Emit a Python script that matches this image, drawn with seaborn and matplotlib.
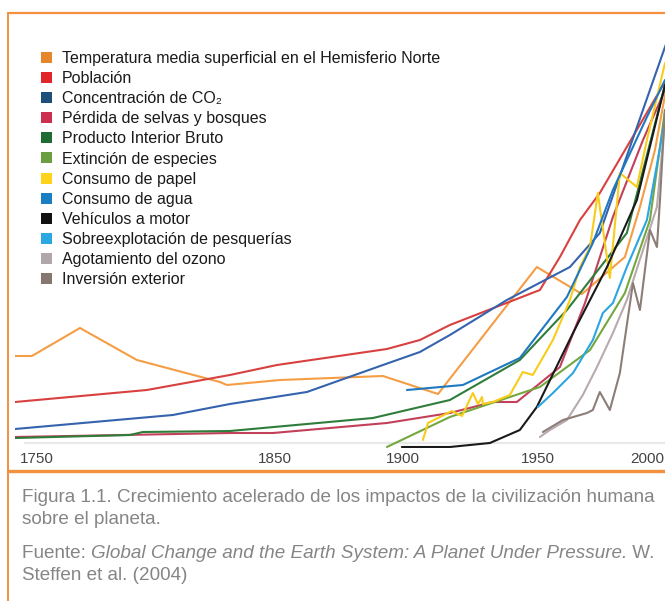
import numpy as np
import pandas as pd
import seaborn as sns
import matplotlib.pyplot as plt
from matplotlib.lines import Line2D
from matplotlib.patches import Patch

# series (year, relative index, 0 = baseline)
temp_x = [1740.8, 1747.9, 1768.1, 1792.0, 1826.9, 1829.8, 1852.0, 1892.2, 1913.0, 1949.6, 1970.2, 1989.9, 1996.8, 2003.7, 2008.3]
temp_y = [87, 87, 115, 83, 61, 58, 63, 67, 49, 176, 149, 186, 236, 293, 348]

pop_x = [1740.8, 1796.2, 1831.1, 1850.8, 1893.75, 1906.3, 1917.4, 1950.9, 1960.1, 1969.3, 1978.4, 2006.9, 2010.6]
pop_y = [41, 53, 68, 78, 94, 103, 118, 153, 186, 223, 250, 356, 368]

co2_x = [1740.8, 1807.1, 1831.1, 1862.5, 1892.2, 1906.3, 1917.4, 1938.5, 1964.7, 1978.4, 2008.3, 2010.6]
co2_y = [14, 28, 39, 51, 78, 91, 108, 143, 176, 210, 396, 410]

forest_x = [1740.8, 1831.1, 1849.2, 1893.75, 1917.4, 1933.3, 1942.2, 1960.1, 1971.6, 1984.4, 1998.2, 2008.3]
forest_y = [6, 10, 10, 20, 30, 41, 41, 76, 140, 226, 303, 353]

gdp_x = [1740.8, 1789.1, 1794.5, 1831.1, 1888.3, 1917.4, 1943.3, 1963.3, 1990.8, 2008.3]
gdp_y = [5, 8, 11, 12, 25, 43, 83, 133, 210, 358]

extinct_x = [1893.75, 1917.4, 1950.9, 1973.9, 1989.9, 2001.4, 2008.3]
extinct_y = [-4, 26, 56, 93, 150, 223, 333]

paper_x = [1907.4, 1909.3, 1913.7, 1918.1, 1921.9, 1925.9, 1927.8, 1929.3, 1929.6, 1933.3, 1939.6, 1944.4,
           1948.1, 1956.9, 1964.7, 1969.3, 1973.9, 1977.5, 1983.0, 1987.6, 1995.4, 2000.0, 2008.3]
paper_y = [3, 20, 26, 32, 27, 50, 39, 46, 39, 41, 48, 71, 68, 103, 143, 176, 196, 250, 165, 270, 256, 303, 380]

water_x = [1901.5, 1922.2, 1943.3, 1963.3, 1975.2, 1984.4, 2000.0, 2008.3]
water_y = [53, 58, 85, 146, 200, 253, 326, 363]

cars_x = [1899.6, 1917.4, 1932.2, 1943.3, 1949.6, 1966.1, 1981.7, 1995.4, 2008.3]
cars_y = [-4, -4, 0, 13, 36, 110, 176, 243, 358]

fish_x = [1950.0, 1956.9, 1966.1, 1975.2, 1979.8, 1984.4, 1990.8, 2000.0, 2008.3]
fish_y = [36, 50, 70, 103, 130, 140, 176, 223, 323]

ozone_x = [1950.9, 1955.5, 1963.3, 1970.6, 1977.1, 1984.4, 1990.8, 1998.2, 2004.6, 2008.3]
ozone_y = [6, 13, 23, 48, 76, 110, 143, 193, 236, 323]

invest_x = [1952.3, 1961.5, 1972.5, 1975.2, 1978.4, 1983.0, 1987.6, 1993.6, 1996.8, 2001.4, 2004.6, 2006.0, 2008.3]
invest_y = [11, 23, 30, 33, 51, 33, 70, 160, 133, 213, 196, 243, 333]

labels = [
    "Temperatura media superficial en el Hemisferio Norte",
    "Población",
    "Concentración de CO₂",
    "Pérdida de selvas y bosques",
    "Producto Interior Bruto",
    "Extinción de especies",
    "Consumo de papel",
    "Consumo de agua",
    "Vehículos a motor",
    "Sobreexplotación de pesquerías",
    "Agotamiento del ozono",
    "Inversión exterior",
]
series = [
    (temp_x, temp_y), (pop_x, pop_y), (co2_x, co2_y), (forest_x, forest_y),
    (gdp_x, gdp_y), (extinct_x, extinct_y), (paper_x, paper_y), (water_x, water_y),
    (cars_x, cars_y), (fish_x, fish_y), (ozone_x, ozone_y), (invest_x, invest_y),
]
legend_colors = ["#e4872b", "#e0262a", "#1d4f7a", "#cc2f50", "#1f6b32", "#6b9e40",
                 "#ffd21c", "#1a7fc2", "#111111", "#2ba8e2", "#b0a6ab", "#857670"]
line_colors = ["#f59d45", "#d8413f", "#3563ae", "#c2405a", "#2f7d3b", "#74a83f",
               "#f8cc1b", "#2079c0", "#1a1a1a", "#2ba6e0", "#b8aaae", "#8d7d78"]

tick_years = [1750, 1850, 1900, 1950, 2000]

rows = []
for lab, (xs, ys) in zip(labels, series):
    for x, y in zip(xs, ys):
        rows.append({"año": x, "valor": y, "serie": lab})
df = pd.DataFrame(rows)

# the source axis is not evenly spaced between labels; follow it piecewise
anchor_years = [1650, 1750, 1850, 1900, 1950, 2000, 2100]
anchor_pos = [-201, 37, 275, 403, 538, 647, 865]


def fwd(v):
    return np.interp(v, anchor_years, anchor_pos)


def inv(v):
    return np.interp(v, anchor_pos, anchor_years)


sns.set_style("white")
plt.rcParams["font.family"] = ["Liberation Sans", "DejaVu Sans"]

W, H = 665, 601
fig = plt.figure(figsize=(W / 100, H / 100), dpi=100)
ax = fig.add_axes([15 / W, 1 - 448 / H, 650 / W, (448 - 20) / H])
ax.set_xscale("function", functions=(fwd, inv))

sns.lineplot(data=df, x="año", y="valor", hue="serie", palette=dict(zip(labels, line_colors)),
             hue_order=labels, estimator=None, sort=False, linewidth=1.5, legend=False, ax=ax)

ax.axhline(0, xmin=10 / 650, color="#e8e8e8", lw=1.6, zorder=0)
ax.set_xlim(1740.8, 2008.3)
ax.set_ylim(-5, 423)
ax.set_xticks(tick_years)
ax.set_xticklabels([str(t) for t in tick_years])
ax.tick_params(axis="x", length=0, pad=3, labelsize=11, labelcolor="#444444")
ax.set_yticks([])
ax.set_xlabel("")
ax.set_ylabel("")
for s in ax.spines.values():
    s.set_visible(False)

handles = [Patch(facecolor=c, edgecolor="none") for c in legend_colors]
fig.legend(handles, labels, loc="upper left", bbox_to_anchor=(41 / W, 1 - 51 / H),
           frameon=False, fontsize=11.5, handlelength=0.68, handleheight=0.68,
           handletextpad=0.65, labelspacing=0.32, borderpad=0, borderaxespad=0,
           labelcolor="#1a1a1a")

# orange frame
orange = "#f3913f"
fig.add_artist(Line2D([8 / W, 1], [1 - 13 / H] * 2, color=orange, lw=1.6))
fig.add_artist(Line2D([8 / W] * 2, [0, 1 - 13 / H], color=orange, lw=1.4))
fig.add_artist(Line2D([8 / W, 1], [1 - 471 / H] * 2, color=orange, lw=2.4))

# caption
fs = 13.6
cap = dict(color="#858585", fontsize=fs, va="center", ha="left")
fig.text(22 / W, 1 - 498 / H, "Figura 1.1. Crecimiento acelerado de los impactos de la civilización humana", **cap)
fig.text(22 / W, 1 - 520 / H, "sobre el planeta.", **cap)
t1 = fig.text(22 / W, 1 - 553 / H, "Fuente: ", **cap)
t2 = ax.annotate("Global Change and the Earth System: A Planet Under Pressure.", xy=(1, 0.5),
                 xycoords=t1, va="center", ha="left", style="italic", color="#858585",
                 fontsize=fs, annotation_clip=False)
ax.annotate(" W.", xy=(1, 0.5), xycoords=t2, va="center", ha="left", color="#858585",
            fontsize=fs, annotation_clip=False)
fig.text(22 / W, 1 - 575 / H, "Steffen et al. (2004)", **cap)

plt.savefig("out.png", dpi=100)
